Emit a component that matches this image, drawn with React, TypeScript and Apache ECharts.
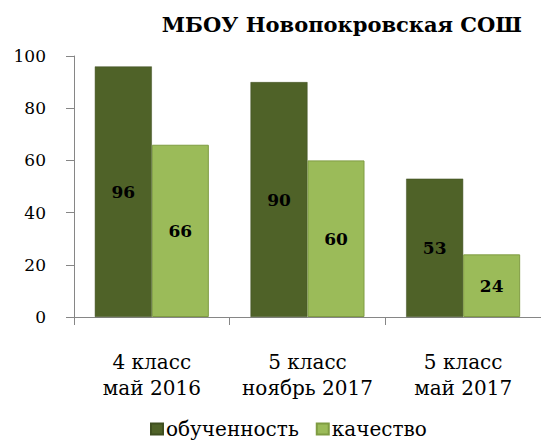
import React, { useEffect, useRef } from "react";
import * as echarts from "echarts";

const categories = ["4 класс\nмай 2016", "5 класс\nноябрь 2017", "5 класс\nмай 2017"];
const seriesNames = ["обученность", "качество"];
const obuchennost = [96, 90, 53];
const kachestvo = [66, 60, 24];
const yTicks = { min: 0, max: 100, interval: 20 };

const FONT = "DejaVu Serif";

export default function App() {
  const ref = useRef<HTMLDivElement>(null);
  useEffect(() => {
    if (!ref.current) return;
    const chart = echarts.init(ref.current, null, { renderer: "svg" });
    const label = {
      show: true,
      position: "inside",
      fontFamily: FONT,
      fontWeight: "bold",
      fontSize: 17,
      color: "#000",
    };
    chart.setOption({
      animation: false,
      backgroundColor: "#fff",
      textStyle: { fontFamily: FONT },
      title: {
        text: "МБОУ Новопокровская СОШ",
        right: 14,
        top: 9,
        textStyle: { fontFamily: FONT, fontWeight: "bold", fontSize: 21, color: "#000" },
      },
      legend: {
        data: seriesNames,
        left: 145,
        top: 414,
        itemWidth: 12,
        itemHeight: 11,
        itemGap: 17,
        icon: "rect",
        textStyle: { fontFamily: FONT, fontSize: 20, color: "#000", padding: [0, 0, 0, -2] },
      },
      grid: { left: 74, top: 56, width: 474, height: 261, containLabel: false },
      xAxis: {
        type: "category",
        data: categories,
        axisLine: { lineStyle: { color: "#868686", width: 1 } },
        axisTick: { show: true, length: 8, lineStyle: { color: "#868686" } },
        axisLabel: {
          interval: 0,
          fontFamily: FONT,
          fontSize: 20,
          color: "#000",
          lineHeight: 26,
          margin: 32,
        },
      },
      yAxis: {
        type: "value",
        min: yTicks.min,
        max: yTicks.max,
        interval: yTicks.interval,
        axisLine: { show: true, lineStyle: { color: "#868686", width: 1 } },
        axisTick: { show: true, length: 8, lineStyle: { color: "#868686" } },
        splitLine: { show: false },
        axisLabel: { fontFamily: FONT, fontSize: 17, color: "#000", margin: 28 },
      },
      series: [
        {
          name: seriesNames[0],
          type: "bar",
          data: obuchennost,
          barWidth: 57,
          barGap: "0%",
          barCategoryGap: "28%",
          itemStyle: { color: "#4F6228", borderColor: "#3f4f20", borderWidth: 0.5 },
          label,
        },
        {
          name: seriesNames[1],
          type: "bar",
          data: kachestvo,
          barWidth: 57,
          barGap: "0%",
          itemStyle: { color: "#9BBB59", borderColor: "#7f9c42", borderWidth: 1 },
          label,
        },
      ],
    });
    return () => chart.dispose();
  }, []);
  return (
    <div
      ref={ref}
      style={{ position: "absolute", left: 0, top: 0, width: 541, height: 443 }}
    />
  );
}
